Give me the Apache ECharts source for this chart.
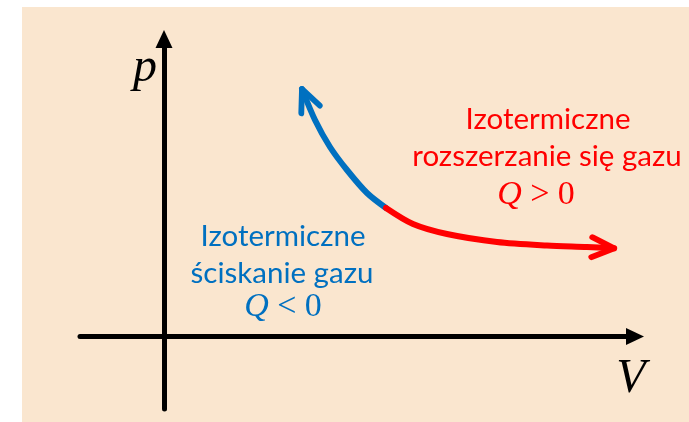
<!DOCTYPE html>
<html>
<head>
<meta charset="utf-8">
<style>
  html, body { margin: 0; padding: 0; background: #fff; }
  #chart { width: 689px; height: 422px; }
</style>
<script src="https://cdn.jsdelivr.net/npm/echarts@6/dist/echarts.min.js"></script>
</head>
<body>
<div id="chart"></div>
<script>
// V / p, arbitrary units, origin where the axes cross
var compressV = [22.2, 20.3, 18.3, 16.6, 15.1, 13.8];
var compressP = [12.85, 14.35, 16.65, 18.95, 21.65, 24.75];
var expandV = [22.2, 24.9, 28.3, 33.3, 38.3, 42.3, 45.0];
var expandP = [12.85, 11.25, 10.25, 9.45, 9.1, 8.95, 8.82];

var axisNames = ["V", "p"];
var compressText = ["Izotermiczne", "ściskanie gazu", "Q", " < 0"];
var expandText = ["Izotermiczne", "rozszerzanie się gazu", "Q", " > 0"];

var BLUE = "#0070C0";
var RED = "#FF0000";
var BG = "#FAE6CF";
var chevron = "path://M0,0L10,10L0,20";
var headSize = [22, 20];

var chart = echarts.init(document.getElementById("chart"));

function pairs(xs, ys) {
  return xs.map(function (v, i) {
    return [v, ys[i]];
  });
}

function curve(name, xs, ys, color, offset) {
  var data = pairs(xs, ys);
  var last = data.length - 1;
  data[last] = {
    value: data[last],
    symbol: chevron,
    symbolSize: headSize,
    symbolRotate: offset ? offset.rotate : 0,
    symbolOffset: offset ? offset.shift : [0, 0],
    itemStyle: {
      color: "transparent",
      borderColor: color,
      borderWidth: 6,
      borderCap: "round",
      borderJoin: "round"
    }
  };
  return {
    name: name,
    type: "line",
    smooth: 0.3,
    symbol: "none",
    data: data,
    lineStyle: { color: color, width: 6, cap: "round" },
    itemStyle: { color: color },
    emphasis: { disabled: true },
    silent: true
  };
}

// arrow head follows the last segment of each curve
function headOffset(xs, ys) {
  var n = xs.length;
  var a = chart.convertToPixel({ gridIndex: 0 }, [xs[n - 2], ys[n - 2]]);
  var b = chart.convertToPixel({ gridIndex: 0 }, [xs[n - 1], ys[n - 1]]);
  var dx = b[0] - a[0];
  var dy = b[1] - a[1];
  var len = Math.sqrt(dx * dx + dy * dy);
  return {
    rotate: (Math.atan2(-dy, dx) * 180) / Math.PI,
    shift: [(-headSize[0] / 2) * dx / len, (-headSize[0] / 2) * dy / len]
  };
}

function label(x, y, text, color) {
  return {
    type: "text",
    x: x,
    y: y,
    style: {
      text: text,
      fill: color,
      font: '29.5px "Lato"',
      textAlign: "center",
      textVerticalAlign: "middle"
    }
  };
}

function mathLabel(x, y, parts, color) {
  return {
    type: "text",
    x: x,
    y: y,
    style: {
      text: "{q|" + parts[0] + "}{m|" + parts[1] + "}",
      fill: color,
      textAlign: "center",
      textVerticalAlign: "middle",
      rich: {
        q: { fontFamily: "Liberation Serif", fontStyle: "italic", fontSize: 34, fill: color },
        m: { fontFamily: "Liberation Serif", fontSize: 34, fill: color }
      }
    }
  };
}

function axis() {
  return {
    type: "value",
    axisLine: {
      show: true,
      onZero: true,
      symbol: ["none", "triangle"],
      symbolSize: [17, 18],
      lineStyle: { color: "#000", width: 5 }
    },
    axisTick: { show: false },
    axisLabel: { show: false },
    splitLine: { show: false }
  };
}

var option = {
  backgroundColor: "#fff",
  animation: false,
  grid: { left: 80, right: 54, top: 39, bottom: 13 },
  xAxis: Object.assign(axis(), { min: -8.4, max: 47.1 }),
  yAxis: Object.assign(axis(), { min: -7.25, max: 29.75 }),
  graphic: [
    {
      type: "rect",
      z: -10,
      shape: { x: 22, y: 7, width: 667, height: 415 },
      style: { fill: BG }
    },
    {
      type: "text",
      x: 145,
      y: 68,
      style: {
        text: axisNames[1],
        fill: "#000",
        font: 'italic 48px "Liberation Serif"',
        textAlign: "center",
        textVerticalAlign: "middle"
      }
    },
    {
      type: "text",
      x: 631,
      y: 379,
      style: {
        text: axisNames[0],
        fill: "#000",
        font: 'italic 48px "Liberation Serif"',
        textAlign: "center",
        textVerticalAlign: "middle"
      }
    },
    label(283, 236, compressText[0], BLUE),
    label(282, 273, compressText[1], BLUE),
    mathLabel(283, 307, compressText.slice(2), BLUE),
    label(548, 119, expandText[0], RED),
    label(547, 156, expandText[1], RED),
    mathLabel(536, 195, expandText.slice(2), RED)
  ],
  series: [
    curve("compress", compressV, compressP, BLUE),
    curve("expand", expandV, expandP, RED)
  ]
};

chart.setOption(option);
chart.setOption({
  series: [
    curve("compress", compressV, compressP, BLUE, headOffset(compressV, compressP)),
    curve("expand", expandV, expandP, RED, headOffset(expandV, expandP))
  ]
});
</script>
</body>
</html>
